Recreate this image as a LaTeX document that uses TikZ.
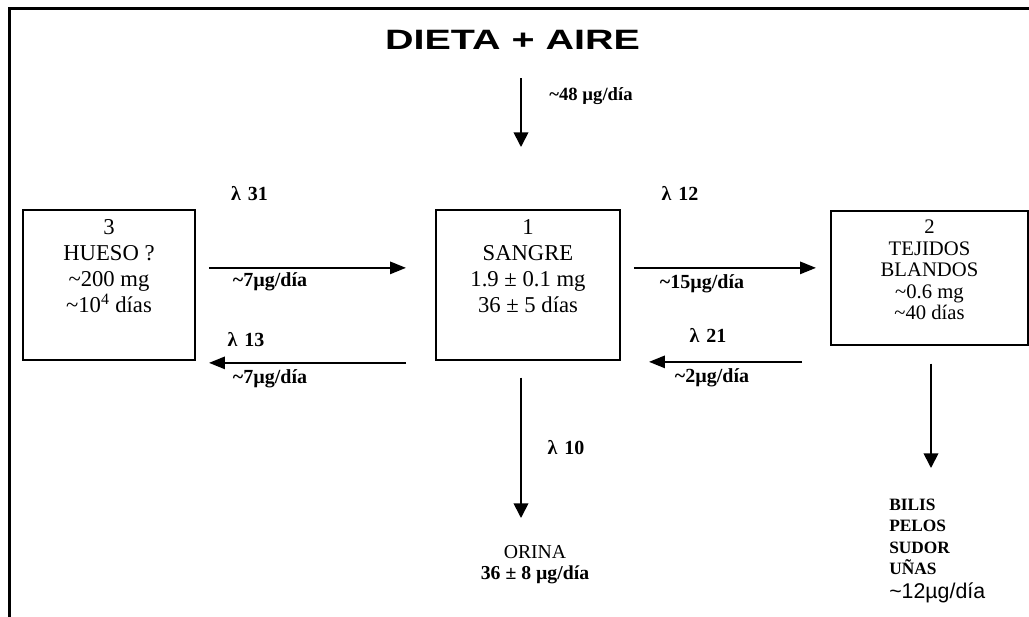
\documentclass[tikz,border=0pt]{standalone}
\usepackage{fontspec}
\setmainfont{Liberation Serif}
\newfontfamily\arialfont{Liberation Sans}
\usetikzlibrary{arrows.meta,positioning}

\begin{document}
\begin{tikzpicture}[x=0.75pt, y=-0.75pt, >={Triangle[length=12pt,width=9pt]},
  box/.style={draw,line width=1.3pt,inner sep=0pt,align=center},
  lbl/.style={inner sep=0pt,font=\fontsize{15}{17}\selectfont\bfseries,text height=1.5ex,text depth=.25ex},
  flow/.style={->,line width=2pt},
  drop/.style={-{Triangle[length=11pt,width=11pt]},line width=1.3pt}]
\useasboundingbox (0,0) rectangle (1029,617);
% marco
\draw[line width=2.3pt] (9.5,617) -- (9.5,8.5) -- (1029,8.5);
\node[inner sep=0pt,anchor=base,font=\arialfont\bfseries\fontsize{21}{24}\selectfont] (dieta) at (512.5,50) {\scalebox{1.41}[1]{DIETA + AIRE}};
% compartimentos
\node[box,anchor=north,minimum width=129pt,text height=77.25pt,text depth=35.25pt,font=\fontsize{17}{19.5}\selectfont] (hueso) at (109,209) {3\\HUESO ?\\\textasciitilde200 mg\\\textasciitilde10\textsuperscript{4} días};
\node[box,anchor=north,minimum width=138pt,text height=77.25pt,text depth=35.25pt,font=\fontsize{17}{19.5}\selectfont] (sangre) at (528,209) {1\\SANGRE\\1.9 ± 0.1 mg\\36 ± 5 días};
\node[box,anchor=north,minimum width=147.75pt,text height=81.75pt,text depth=18.75pt,font=\fontsize{15.5}{16.2}\selectfont] (tejidos) at (929.5,210) {2\\TEJIDOS\\BLANDOS\\\textasciitilde0.6 mg\\\textasciitilde40 días};
% salidas
\node[inner sep=0pt,align=center,anchor=north,font=\fontsize{14.8}{15.5}\selectfont\bfseries] (orina) at (535,545) {{\mdseries ORINA}\\36 ± 8 µg/día};
\node[inner sep=0pt,align=left,anchor=north west,font=\fontsize{13}{16.1}\selectfont\bfseries] (excreta) at (889,498.6) {BILIS\\PELOS\\SUDOR\\UÑAS\\[2pt]{\arialfont\mdseries\fontsize{16}{16}\selectfont\textasciitilde12µg/día}};
% constantes y flujos
\node[lbl,font=\fontsize{14}{16}\selectfont\bfseries] (f48) at (591,97) {\textasciitilde48 µg/día};
\node[lbl] (l31) at (249.5,197) {λ\hspace{.35em}31};
\node[lbl] (f31) at (270,283) {\textasciitilde7µg/día};
\node[lbl] (l13) at (246,343) {λ\hspace{.35em}13};
\node[lbl] (f13) at (270,380) {\textasciitilde7µg/día};
\node[lbl] (l12) at (680,197) {λ\hspace{.35em}12};
\node[lbl] (f12) at (702,285) {\textasciitilde15µg/día};
\node[lbl] (l21) at (708,339) {λ\hspace{.35em}21};
\node[lbl] (f21) at (712,379) {\textasciitilde2µg/día};
\node[lbl] (l10) at (566,451) {λ\hspace{.35em}10};
% flechas
\draw[drop] ([shift={(8.5,28)}]dieta.south) -- ([shift={(-7,-62)}]sangre.north);
\draw[flow] ([shift={(13,-17)}]hueso.east) -- ([shift={(-29,-17)}]sangre.west);
\draw[flow] ([shift={(-29,78)}]sangre.west) -- ([shift={(13,78)}]hueso.east);
\draw[flow] ([shift={(13,-17)}]sangre.east) -- ([shift={(-14,-10)}]tejidos.west);
\draw[flow] ([shift={(-28,84)}]tejidos.west) -- ([shift={(28,77)}]sangre.east);
\draw[drop] ([shift={(-7,17)}]sangre.south) -- ([shift={(-14,-27)}]orina.north);
\draw[drop] ([shift={(1.5,18)}]tejidos.south) -- ([shift={(42,-30.6)}]excreta.north west);
\end{tikzpicture}
\end{document}
